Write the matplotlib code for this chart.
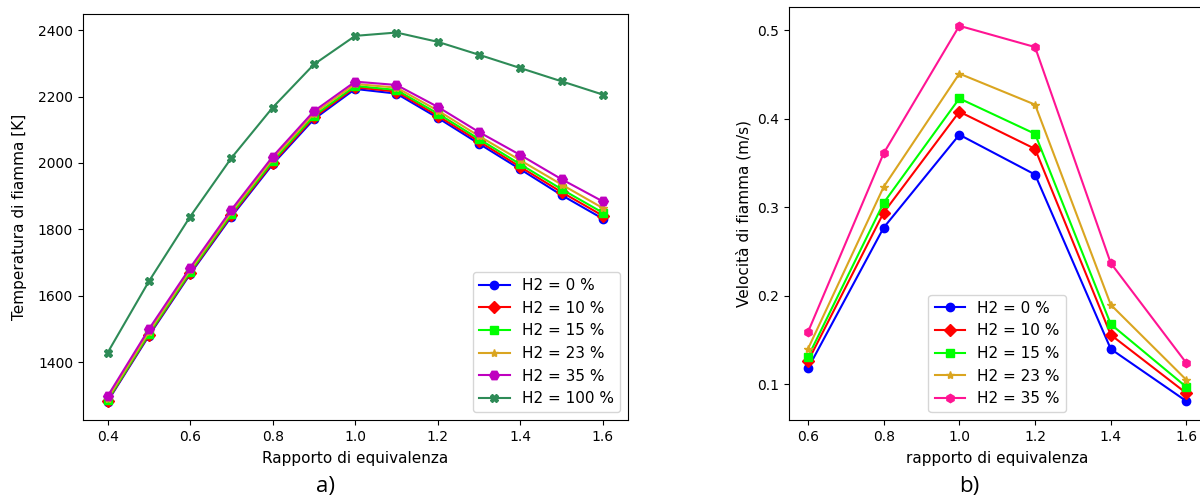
import matplotlib.pyplot as plt
import numpy as np

# Data - a) temperatura di fiamma
phi_a = np.arange(0.4, 1.61, 0.1)
T_h2_0 = [1281, 1479, 1665, 1838, 1996, 2132, 2223, 2209, 2136, 2058, 1981, 1903, 1832]
T_h2_10 = [1283, 1482, 1668, 1842, 2000, 2137, 2228, 2215, 2142, 2065, 1988, 1912, 1841]
T_h2_15 = [1285, 1485, 1671, 1846, 2005, 2142, 2232, 2220, 2149, 2072, 1996, 1921, 1850]
T_h2_23 = [1290, 1491, 1677, 1852, 2012, 2149, 2238, 2227, 2158, 2081, 2008, 1935, 1864]
T_h2_35 = [1297, 1499, 1684, 1859, 2019, 2156, 2245, 2235, 2169, 2093, 2024, 1951, 1884]
T_h2_100 = [1428, 1643, 1838, 2015, 2167, 2297, 2383, 2393, 2365, 2326, 2286, 2246, 2206]

# Data - b) velocita di fiamma
phi_b = [0.6, 0.8, 1.0, 1.2, 1.4, 1.6]
v_h2_0 = [0.118, 0.277, 0.382, 0.337, 0.140, 0.081]
v_h2_10 = [0.126, 0.294, 0.408, 0.366, 0.156, 0.090]
v_h2_15 = [0.131, 0.305, 0.423, 0.383, 0.168, 0.097]
v_h2_23 = [0.140, 0.323, 0.451, 0.416, 0.190, 0.105]
v_h2_35 = [0.159, 0.361, 0.505, 0.481, 0.237, 0.124]

fig = plt.figure(figsize=(12, 5.03), dpi=100)

# a)
ax1 = fig.add_axes([0.069, 0.165, 0.454, 0.807])
ax1.plot(phi_a, T_h2_0, marker='o', color='blue', label='H2 = 0 %')
ax1.plot(phi_a, T_h2_10, marker='D', color='red', label='H2 = 10 %')
ax1.plot(phi_a, T_h2_15, marker='s', color='lime', label='H2 = 15 %')
ax1.plot(phi_a, T_h2_23, marker='*', color='goldenrod', label='H2 = 23 %')
ax1.plot(phi_a, T_h2_35, marker='H', markersize=7, color='m', label='H2 = 35 %')
ax1.plot(phi_a, T_h2_100, marker='X', color='seagreen', label='H2 = 100 %')
ax1.set_xlabel('Rapporto di equivalenza', fontsize=11, labelpad=5)
ax1.set_ylabel('Temperatura di fiamma [K]', fontsize=11, labelpad=8)
ax1.legend(loc='lower right', fontsize=11)

# b)
ax2 = fig.add_axes([0.6575, 0.165, 0.347, 0.821])
ax2.plot(phi_b, v_h2_0, marker='o', color='blue', label='H2 = 0 %')
ax2.plot(phi_b, v_h2_10, marker='D', color='red', label='H2 = 10 %')
ax2.plot(phi_b, v_h2_15, marker='s', color='lime', label='H2 = 15 %')
ax2.plot(phi_b, v_h2_23, marker='*', color='goldenrod', label='H2 = 23 %')
ax2.plot(phi_b, v_h2_35, marker='h', color='deeppink', label='H2 = 35 %')
ax2.set_xlabel('rapporto di equivalenza', fontsize=11, labelpad=5)
ax2.set_ylabel('Velocità di fiamma (m/s)', fontsize=11)
ax2.set_xticks(phi_b)
ax2.legend(loc='lower center', fontsize=11)

# Captions
fig.text(0.271, 0.022, 'a)', fontsize=16, family='Open Sans', ha='center')
fig.text(0.808, 0.022, 'b)', fontsize=16, family='Open Sans', ha='center')

fig.savefig('out.png', dpi=100)
